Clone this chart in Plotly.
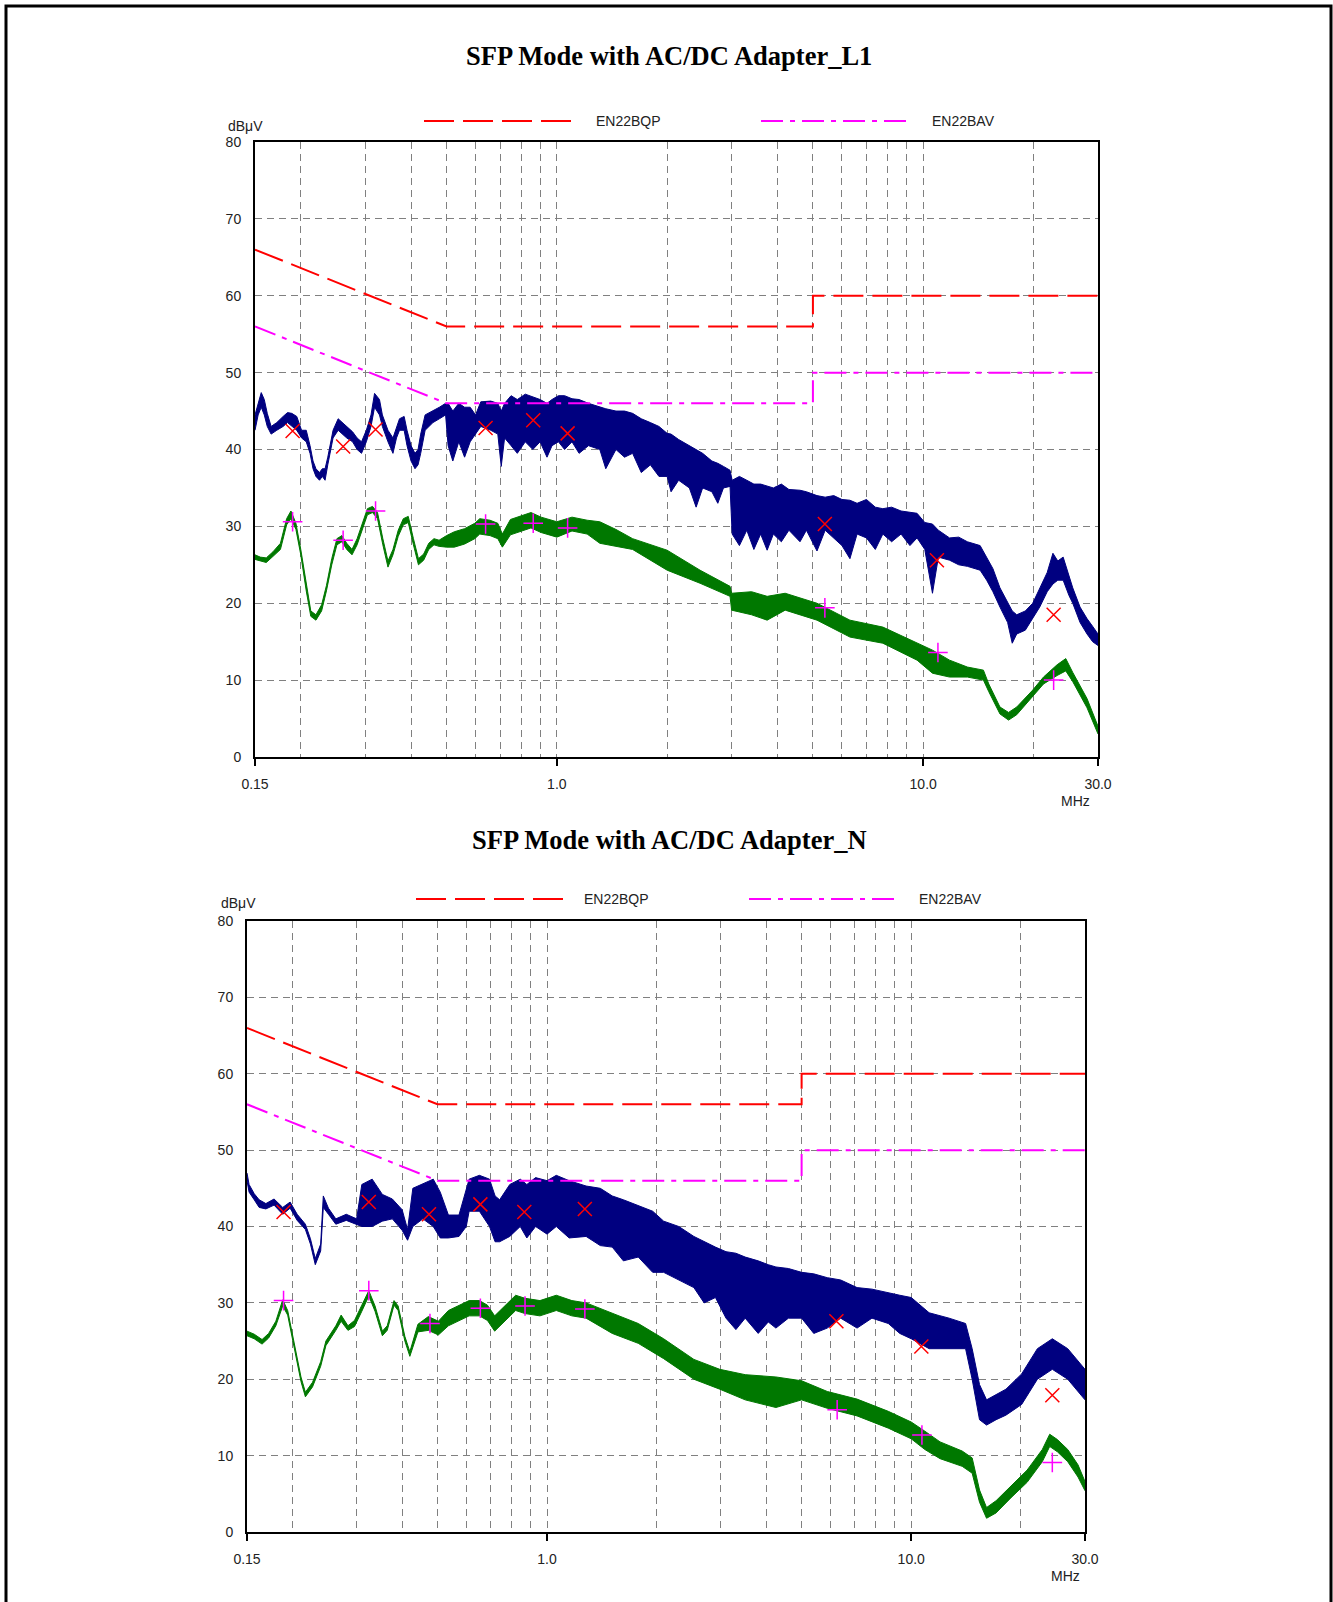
import plotly.graph_objects as go
import math

# page geometry
OX, OY = 0, 0
FW, FH = 1333, 1602

# ---------------- data ----------------
# limit lines (EN55022 class B)
lim_f = [0.15, 0.5, 5.0, 5.0, 30.0]
qp_lim = [66, 56, 56, 60, 60]
av_lim = [56, 46, 46, 50, 50]

# ---- L1: peak/QP scan (upper / lower envelope of the trace, dBuV) ----
l1_pk_f = [0.150, 0.153, 0.156, 0.159, 0.162, 0.166, 0.172, 0.179, 0.184, 0.189, 0.195, 0.201,
           0.207, 0.212, 0.216, 0.220, 0.225, 0.229, 0.233, 0.237, 0.241, 0.245, 0.253, 0.260,
           0.267, 0.277, 0.285, 0.293, 0.302, 0.311, 0.318, 0.328, 0.334, 0.346, 0.357, 0.365,
           0.372, 0.383, 0.390, 0.400, 0.410, 0.418, 0.425, 0.437, 0.459, 0.478, 0.497,
           0.505, 0.52, 0.54, 0.56, 0.58, 0.60, 0.62, 0.66, 0.69, 0.705, 0.72, 0.75, 0.78,
           0.82, 0.86, 0.90, 0.94, 0.97, 1.01, 1.05, 1.10, 1.15, 1.22, 1.31, 1.36, 1.45,
           1.53, 1.61, 1.70, 1.80, 1.90, 2.00, 2.05, 2.15, 2.30, 2.40, 2.50, 2.65, 2.75,
           2.85, 2.97, 3.01, 3.15, 3.30, 3.45, 3.60, 3.75, 3.90, 4.10, 4.30, 4.61, 4.80,
           5.13, 5.40, 5.70, 6.00, 6.31, 6.60, 7.00, 7.40, 7.76, 8.20, 8.70, 9.20, 9.62,
           10.1, 10.6, 11.0, 11.8, 12.5, 13.2, 14.3, 14.9, 15.5, 16.2, 17.0, 17.5, 18.0,
           19.0, 19.9, 20.8, 21.8, 22.6, 23.3, 24.1, 25.0, 25.6, 26.8, 28.0, 29.0, 30.0]
l1_pk_hi = [44.5, 46.0, 47.4, 46.5, 44.7, 43.0, 43.5, 44.3, 44.8, 44.7, 44.3, 42.5,
            42.5, 40.5, 38.5, 37.5, 37.0, 37.5, 37.5, 39.0, 41.0, 42.5, 44.0, 43.5,
            43.0, 42.3, 41.5, 41.0, 42.5, 44.5, 47.3, 46.5, 44.5, 42.5, 41.5, 43.0,
            44.0, 44.3, 42.5, 40.5, 39.5, 40.0, 42.0, 44.5, 45.0, 45.5, 46.0,
            46.0, 45.0, 46.0, 45.5, 45.5, 44.5, 46.2, 46.3, 46.0, 45.0, 46.0, 47.0, 46.5,
            47.2, 46.8, 46.5, 46.0, 46.5, 47.0, 47.0, 46.6, 46.5, 46.0, 45.5, 45.3, 45.0,
            45.0, 44.7, 44.0, 43.5, 43.0, 42.1, 42.0, 41.3, 40.5, 40.0, 39.5, 38.5, 38.2,
            37.8, 37.3, 36.0, 36.5, 36.0, 35.5, 35.5, 35.2, 35.0, 35.5, 34.8, 34.7, 34.5,
            34.0, 33.8, 34.0, 33.5, 33.4, 33.0, 33.5, 32.5, 32.3, 32.5, 32.0, 31.8, 31.7,
            30.5, 30.3, 29.5, 28.5, 28.6, 28.0, 27.5, 26.0, 24.5, 22.0, 20.0, 19.0, 18.5,
            19.0, 20.0, 22.0, 24.0, 26.5, 25.5, 26.0, 23.5, 22.0, 19.5, 18.0, 17.0, 16.0]
l1_pk_lo = [42.5, 44.5, 45.5, 44.5, 43.0, 42.0, 42.5, 43.0, 43.5, 43.0, 42.5, 41.5,
            41.0, 39.5, 37.5, 36.5, 36.0, 36.5, 36.0, 38.0, 40.0, 41.5, 42.5, 42.0,
            41.5, 41.0, 40.0, 39.5, 41.0, 43.0, 45.5, 44.5, 43.0, 41.0, 39.5, 41.5,
            42.5, 42.5, 40.5, 38.5, 37.5, 38.0, 39.5, 42.5, 43.5, 44.0, 44.5,
            40.5, 38.5, 41.0, 39.0, 41.0, 42.0, 43.0, 42.5, 42.0, 37.8, 41.5, 40.5, 39.5,
            41.0, 40.0, 41.0, 39.0, 40.5, 41.0, 40.0, 41.0, 39.5, 40.5, 40.0, 37.5, 40.0,
            39.0, 39.5, 37.0, 38.0, 36.5, 36.5, 34.5, 36.0, 35.0, 32.5, 35.0, 34.5, 33.0,
            35.0, 35.2, 29.0, 27.5, 29.5, 27.0, 29.0, 26.9, 29.0, 28.0, 29.5, 28.0, 29.5,
            26.8, 29.5, 28.5, 27.5, 25.8, 29.0, 28.5, 27.0, 29.0, 28.0, 29.0, 27.5, 28.5,
            27.0, 21.3, 26.0, 25.6, 25.0, 24.8, 24.3, 23.0, 21.5, 19.5, 17.5, 14.8, 16.0,
            16.5, 18.0, 19.5, 21.5, 22.5, 23.0, 23.0, 21.0, 20.0, 17.5, 16.0, 15.0, 14.5]

# ---- L1: average scan ----
l1_av_f = [0.150, 0.155, 0.161, 0.168, 0.176, 0.183, 0.188, 0.194, 0.200, 0.207, 0.213, 0.220,
           0.228, 0.235, 0.243, 0.251, 0.259, 0.267, 0.276, 0.285, 0.295, 0.304, 0.314, 0.324,
           0.335, 0.346, 0.357, 0.369, 0.381, 0.393, 0.406, 0.419, 0.433, 0.447, 0.462, 0.477,
           0.500, 0.525, 0.560, 0.597, 0.616, 0.657, 0.690, 0.710, 0.747, 0.797, 0.850, 0.906,
           1.00, 1.10, 1.21, 1.31, 1.45, 1.61, 2.00, 2.46, 2.97, 3.00, 3.40, 3.75, 4.20, 5.13,
           6.31, 7.76, 9.62, 10.6, 11.8, 13.2, 14.6, 15.1, 16.2, 17.1, 18.0, 19.9, 21.3, 23.2,
           24.5, 25.6, 28.0, 30.0]
l1_av_hi = [26.3, 26.0, 25.9, 26.7, 27.8, 31.0, 32.0, 30.4, 27.0, 22.3, 19.0, 18.5,
            19.8, 22.3, 25.8, 28.4, 28.8, 27.8, 27.0, 28.4, 30.4, 32.3, 32.6, 31.8,
            28.4, 25.5, 27.0, 29.5, 31.0, 31.3, 28.4, 25.8, 26.4, 27.8, 28.4, 28.2,
            28.8, 29.3, 29.7, 30.4, 31.0, 30.8, 30.4, 29.0, 30.9, 31.4, 31.8, 31.2,
            30.6, 31.2, 30.8, 30.6, 29.6, 28.4, 26.9, 24.3, 22.2, 21.3, 21.5, 20.9, 21.3, 20.0,
            17.8, 16.9, 14.8, 13.9, 12.6, 11.7, 11.3, 9.5, 6.5, 5.8, 6.5, 8.7, 10.4, 12.0,
            12.8, 11.0, 7.6, 4.0]
l1_av_lo = [25.7, 25.5, 25.3, 26.1, 27.0, 30.2, 31.0, 29.6, 26.3, 21.6, 18.3, 17.8,
            19.0, 21.6, 25.0, 27.6, 28.0, 27.0, 26.3, 27.6, 29.6, 31.5, 31.8, 31.0,
            27.6, 24.7, 26.3, 28.7, 30.2, 30.5, 27.6, 25.0, 25.6, 27.0, 27.6, 27.4,
            27.3, 27.3, 27.7, 28.4, 29.0, 28.8, 28.4, 27.3, 28.9, 29.4, 29.8, 29.2,
            28.6, 29.4, 29.0, 27.8, 27.4, 27.0, 24.3, 22.6, 20.9, 19.1, 18.5, 17.8, 19.1, 17.8,
            15.6, 14.8, 12.6, 10.9, 10.4, 10.4, 10.0, 8.5, 5.6, 4.8, 5.5, 7.8, 9.5, 10.6,
            11.2, 9.8, 6.4, 3.0]

# ---- L1 final measurement points ----
l1_qp_mf = [0.190, 0.261, 0.320, 0.639, 0.862, 1.07, 5.39, 10.9, 22.7]
l1_qp_mv = [42.4, 40.4, 42.6, 42.8, 43.8, 42.1, 30.3, 25.6, 18.5]
l1_av_mf = [0.190, 0.261, 0.320, 0.639, 0.862, 1.07, 5.39, 10.97, 22.7]
l1_av_mv = [30.6, 28.2, 32.0, 30.3, 30.4, 29.8, 19.4, 13.6, 10.0]

# ---- N: peak/QP scan ----
n_pk_f = [0.150, 0.152, 0.157, 0.162, 0.169, 0.178, 0.188, 0.197, 0.206, 0.217, 0.224, 0.231,
          0.239, 0.243, 0.251, 0.263, 0.281, 0.300, 0.310, 0.331, 0.353, 0.376, 0.400, 0.414,
          0.428, 0.456, 0.487, 0.509, 0.536, 0.573, 0.600, 0.611, 0.652, 0.695, 0.720, 0.741,
          0.790, 0.844, 0.880, 0.930, 1.00, 1.06, 1.15, 1.28, 1.40, 1.51, 1.62, 1.78, 1.95,
          2.09, 2.30, 2.53, 2.70, 2.90, 3.10, 3.30, 3.50, 3.80, 4.05, 4.25, 4.60, 5.00, 5.40,
          5.88, 6.40, 7.10, 7.80, 8.65, 9.30, 10.0, 11.2, 12.7, 14.1, 14.7, 15.4, 16.1, 17.1,
          18.2, 20.1, 22.2, 24.4, 26.9, 30.0]
n_pk_hi = [47.0, 45.5, 44.3, 43.5, 43.0, 43.6, 42.5, 43.2, 41.6, 40.3, 38.4, 35.8,
           37.7, 44.0, 42.4, 41.0, 41.6, 41.0, 45.5, 46.2, 44.2, 43.6, 42.2, 39.6,
           45.0, 45.6, 46.2, 44.5, 41.5, 41.5, 45.0, 46.2, 46.7, 46.2, 44.0, 43.5,
           45.5, 46.2, 45.5, 46.4, 46.0, 46.7, 46.0, 45.3, 45.0, 44.0, 43.5, 42.7, 42.0,
           40.7, 40.0, 38.7, 38.0, 37.3, 36.7, 36.5, 36.0, 35.5, 35.0, 34.7, 34.5, 34.0, 33.8,
           33.3, 33.0, 32.0, 31.8, 31.3, 31.0, 30.7, 28.7, 28.0, 27.3, 24.0, 19.3, 17.3, 18.0,
           18.7, 20.7, 24.0, 25.3, 24.0, 21.3]
n_pk_lo = [46.0, 44.5, 43.5, 42.5, 42.3, 42.8, 41.6, 42.4, 40.8, 39.6, 37.7, 35.0,
           36.8, 42.5, 41.6, 40.3, 40.8, 40.2, 40.0, 40.0, 40.7, 41.0, 39.5, 38.2,
           40.0, 41.0, 40.0, 38.5, 38.5, 38.7, 40.0, 42.0, 42.0, 40.0, 38.0, 38.0,
           38.7, 40.0, 38.5, 40.0, 39.0, 40.0, 38.5, 38.7, 37.5, 37.3, 35.5, 36.0, 34.0,
           34.0, 33.0, 32.0, 30.0, 30.7, 28.0, 26.5, 28.0, 26.0, 27.5, 26.7, 28.0, 28.0, 26.0,
           26.7, 28.0, 26.7, 28.0, 27.3, 26.0, 25.3, 24.0, 24.0, 24.0, 20.0, 14.7, 14.0, 14.7,
           15.3, 16.7, 20.0, 21.3, 20.0, 17.3]

# ---- N: average scan ----
n_av_f = [0.150, 0.157, 0.165, 0.172, 0.180, 0.188, 0.194, 0.203, 0.211, 0.217, 0.227, 0.239,
          0.247, 0.263, 0.272, 0.284, 0.296, 0.310, 0.324, 0.337, 0.353, 0.364, 0.380, 0.390,
          0.407, 0.420, 0.442, 0.472, 0.503, 0.536, 0.573, 0.611, 0.652, 0.686, 0.718, 0.768,
          0.820, 0.870, 0.956, 1.06, 1.17, 1.28, 1.51, 1.78, 2.09, 2.53, 2.98, 3.50, 4.25,
          5.00, 5.88, 7.10, 8.65, 10.0, 10.9, 12.0, 13.8, 14.7, 15.4, 16.1, 17.1, 18.8, 20.8,
          22.9, 24.0, 25.2, 26.9, 28.7, 30.0]
n_av_hi = [26.3, 25.9, 25.2, 26.0, 27.6, 30.4, 29.0, 24.3, 20.3, 18.3, 19.6, 22.3,
           25.0, 27.0, 28.4, 27.0, 27.7, 29.7, 31.6, 29.6, 26.3, 27.0, 30.3, 29.6,
           25.6, 23.6, 27.2, 28.2, 27.6, 29.0, 29.7, 30.3, 30.3, 29.7, 28.3, 29.7,
           31.0, 30.6, 30.3, 31.0, 30.3, 30.0, 28.6, 27.3, 25.3, 22.6, 21.3, 20.6, 20.3,
           19.8, 18.4, 17.4, 15.8, 14.4, 13.2, 11.8, 10.6, 9.7, 5.5, 3.2, 4.1, 6.1, 8.1,
           10.8, 12.8, 12.1, 10.8, 8.8, 6.6]
n_av_lo = [25.7, 25.3, 24.6, 25.4, 27.0, 29.6, 28.4, 23.7, 19.7, 17.7, 19.0, 21.7,
           24.4, 26.4, 27.6, 26.4, 26.9, 28.9, 30.9, 28.9, 25.7, 26.4, 29.7, 29.0,
           25.0, 23.0, 26.2, 26.4, 25.8, 27.0, 27.7, 28.3, 28.3, 27.7, 26.3, 27.7,
           29.0, 28.6, 28.3, 29.0, 28.3, 28.0, 26.0, 24.7, 22.7, 20.0, 18.7, 17.3, 16.3,
           17.3, 16.2, 15.2, 13.6, 12.2, 10.8, 9.6, 8.6, 7.7, 3.9, 1.8, 2.5, 4.5, 6.5,
           9.2, 11.2, 10.5, 9.2, 7.2, 5.4]

# ---- N final measurement points ----
n_qp_mf = [0.189, 0.324, 0.474, 0.656, 0.866, 1.27, 6.23, 10.66, 24.4]
n_qp_mv = [41.9, 43.2, 41.6, 42.9, 41.9, 42.3, 27.6, 24.3, 17.9]
n_av_mf = [0.189, 0.324, 0.477, 0.656, 0.870, 1.27, 6.26, 10.7, 24.4]
n_av_mv = [30.3, 31.6, 27.3, 29.3, 29.6, 29.2, 16.0, 12.7, 9.1]

x_tickvals = [0.15, 1.0, 10.0, 30.0]
x_ticktext = ["0.15", "1.0", "10.0", "30.0"]
x_gridvals = [0.2, 0.3, 0.4, 0.5, 0.6, 0.7, 0.8, 0.9, 2, 3, 4, 5, 6, 7, 8, 9, 20]
y_tickvals = [0, 10, 20, 30, 40, 50, 60, 70, 80]

titles = ["SFP Mode with AC/DC Adapter_L1", "SFP Mode with AC/DC Adapter_N"]
legend_names = ["EN22BQP", "EN22BAV"]

# ---------------- styling ----------------
NAVY = "#000080"
GREEN = "#007800"
RED = "#FF0000"
MAG = "#FF00FF"
GRID = "#808080"
FONT = "Liberation Sans"
QP_DASH = "30px,9px"
AV_DASH = "22px,7px,5px,7px"


def px(x):
    """page pixel x -> paper fraction"""
    return (x - OX) / FW


def py(y):
    """page pixel y -> paper fraction"""
    return 1 - (y - OY) / FH


fig = go.Figure()

panels = [
    dict(xa="x", ya="y", pk=(l1_pk_f, l1_pk_hi, l1_pk_lo), av=(l1_av_f, l1_av_hi, l1_av_lo),
         qp=(l1_qp_mf, l1_qp_mv), avm=(l1_av_mf, l1_av_mv)),
    dict(xa="x2", ya="y2", pk=(n_pk_f, n_pk_hi, n_pk_lo), av=(n_av_f, n_av_hi, n_av_lo),
         qp=(n_qp_mf, n_qp_mv), avm=(n_av_mf, n_av_mv)),
]

for p in panels:
    for (f, hi, lo), col in ((p["pk"], NAVY), (p["av"], GREEN)):
        fig.add_trace(go.Scatter(x=f, y=lo, mode="lines", line=dict(color=col, width=1),
                                 xaxis=p["xa"], yaxis=p["ya"], showlegend=False, hoverinfo="skip"))
        fig.add_trace(go.Scatter(x=f, y=hi, mode="lines", line=dict(color=col, width=1),
                                 fill="tonexty", fillcolor=col,
                                 xaxis=p["xa"], yaxis=p["ya"], showlegend=False, hoverinfo="skip"))
    fig.add_trace(go.Scatter(x=lim_f, y=qp_lim, mode="lines",
                             line=dict(color=RED, width=2, dash=QP_DASH),
                             xaxis=p["xa"], yaxis=p["ya"], showlegend=False))
    fig.add_trace(go.Scatter(x=lim_f, y=av_lim, mode="lines",
                             line=dict(color=MAG, width=2, dash=AV_DASH),
                             xaxis=p["xa"], yaxis=p["ya"], showlegend=False))
    fig.add_trace(go.Scatter(x=p["qp"][0], y=p["qp"][1], mode="markers",
                             marker=dict(symbol="x-thin", size=14, line=dict(color=RED, width=1.5)),
                             xaxis=p["xa"], yaxis=p["ya"], showlegend=False))
    fig.add_trace(go.Scatter(x=p["avm"][0], y=p["avm"][1], mode="markers",
                             marker=dict(symbol="cross-thin", size=14, line=dict(color=MAG, width=1.5)),
                             xaxis=p["xa"], yaxis=p["ya"], showlegend=False))

tickfont = dict(family=FONT, size=14, color="#222222")


def xaxis_cfg(domain, anchor):
    return dict(type="log", range=[math.log10(0.15), math.log10(30)], domain=domain, anchor=anchor,
                tickmode="array", tickvals=x_tickvals, ticktext=x_ticktext,
                ticks="outside", ticklen=7, tickwidth=1.5, tickcolor="black",
                showline=True, linecolor="black", linewidth=2, mirror=True,
                showgrid=True, gridcolor=GRID, griddash="7px,5px", gridwidth=1,
                minor=dict(tickmode="array", tickvals=x_gridvals, showgrid=True, gridcolor=GRID,
                           griddash="7px,5px", gridwidth=1, ticks=""),
                tickfont=tickfont, ticklabelstandoff=6, zeroline=False, automargin=False)


def yaxis_cfg(domain, anchor):
    return dict(range=[0, 80], domain=domain, anchor=anchor,
                tickmode="array", tickvals=y_tickvals,
                ticks="", showline=True, linecolor="black", linewidth=2, mirror=True,
                showgrid=True, gridcolor=GRID, griddash="7px,5px", gridwidth=1,
                tickfont=tickfont, ticklabelstandoff=9, zeroline=False, automargin=False)


fig.update_layout(
    width=FW, height=FH, autosize=False,
    margin=dict(l=0, r=0, t=0, b=0, pad=0, autoexpand=False),
    paper_bgcolor="white", plot_bgcolor="white",
    showlegend=False,
    xaxis=xaxis_cfg([px(255), px(1098)], "y"),
    yaxis=yaxis_cfg([py(757), py(142)], "x"),
    xaxis2=xaxis_cfg([px(247), px(1085)], "y2"),
    yaxis2=yaxis_cfg([py(1532), py(921)], "x2"),
)

ann = []
shapes = []
# titles
for t, yy in zip(titles, (56, 840)):
    ann.append(dict(text="<b>%s</b>" % t, x=px(669), y=py(yy), xref="paper", yref="paper",
                    showarrow=False, xanchor="center", yanchor="middle",
                    font=dict(family="Liberation Serif", size=26.5, color="black")))
# unit labels
for (ux, uy), (mx, my) in (((226, 126), (1075, 801)), ((219, 903), (1065, 1576))):
    ann.append(dict(text="dBμV", x=px(ux), y=py(uy), xref="paper", yref="paper", showarrow=False,
                    xanchor="left", yanchor="middle", font=tickfont))
    ann.append(dict(text="MHz", x=px(mx), y=py(my), xref="paper", yref="paper", showarrow=False,
                    xanchor="center", yanchor="middle", font=tickfont))
# legends
for ly, (r0, r1, rt), (m0, m1, mt) in ((121, (424, 577, 594), (761, 909, 930)),
                                       (899, (416, 567, 582), (749, 899, 917))):
    shapes.append(dict(type="line", xref="paper", yref="paper", x0=px(r0), x1=px(r1),
                       y0=py(ly), y1=py(ly), line=dict(color=RED, width=2, dash=QP_DASH)))
    shapes.append(dict(type="line", xref="paper", yref="paper", x0=px(m0), x1=px(m1),
                       y0=py(ly), y1=py(ly), line=dict(color=MAG, width=2, dash=AV_DASH)))
    ann.append(dict(text=legend_names[0], x=px(rt), y=py(ly), xref="paper", yref="paper",
                    showarrow=False, xanchor="left", yanchor="middle", font=tickfont))
    ann.append(dict(text=legend_names[1], x=px(mt), y=py(ly), xref="paper", yref="paper",
                    showarrow=False, xanchor="left", yanchor="middle", font=tickfont))
# page frame
shapes.append(dict(type="rect", xref="paper", yref="paper", x0=px(6), x1=px(1331),
                   y0=-0.05, y1=py(6), line=dict(color="black", width=3), layer="above"))

fig.update_layout(annotations=ann, shapes=shapes)
fig.write_html("out.html")
